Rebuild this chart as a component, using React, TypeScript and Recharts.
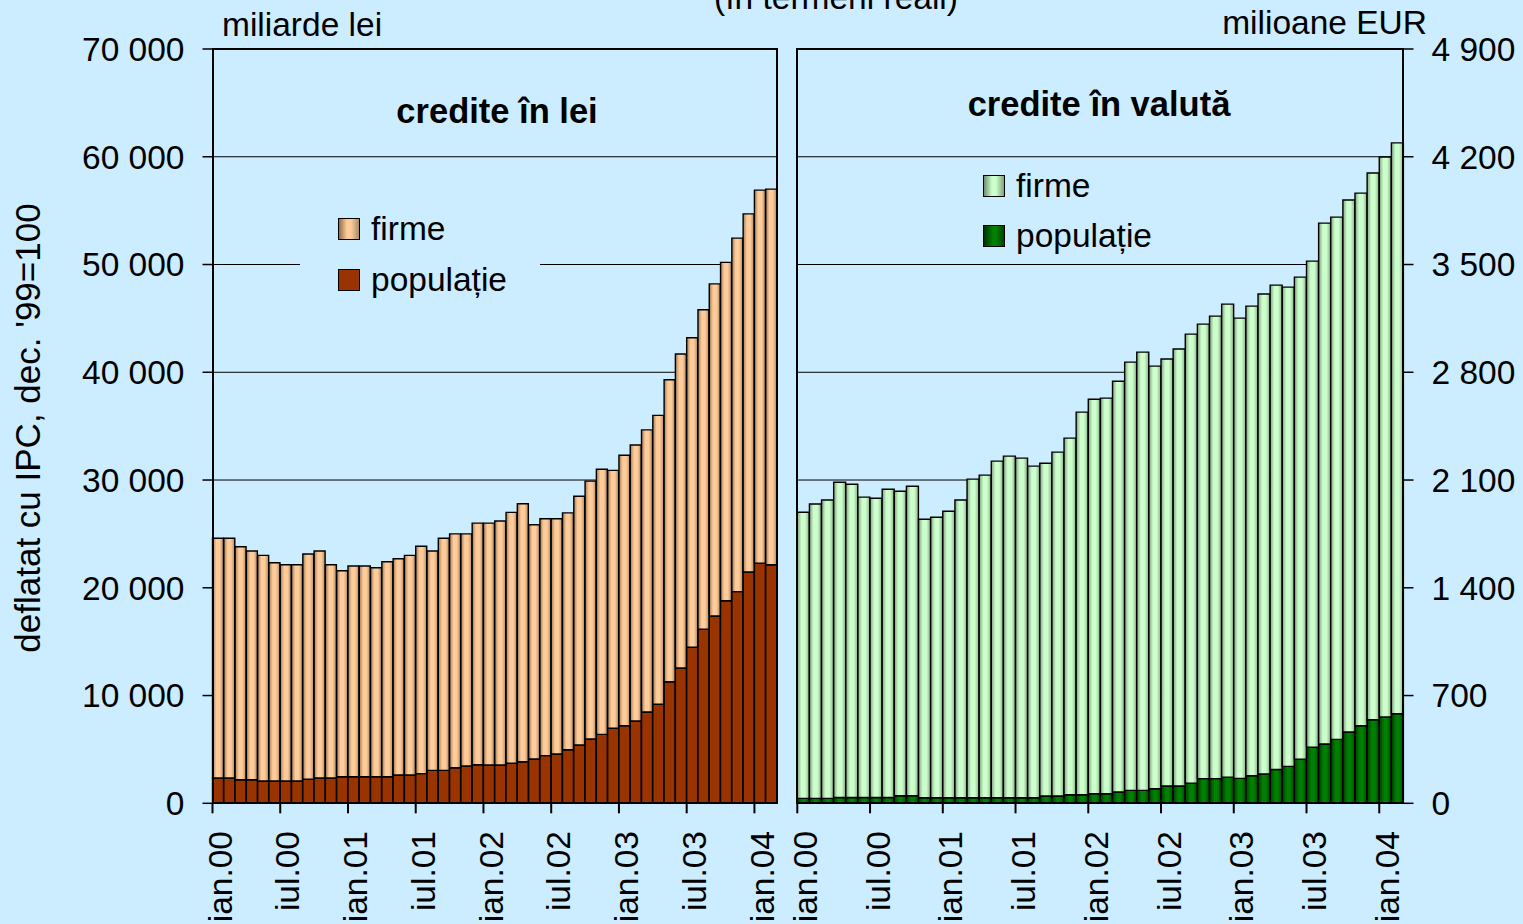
import { BarChart, Bar, XAxis, YAxis, CartesianGrid } from "recharts";

// luni: ian.00 ... feb.04
const months = [
  "ian.00", "feb.00", "mar.00", "apr.00", "mai.00", "iun.00", "iul.00", "aug.00", "sep.00", "oct.00", "noi.00", "dec.00",
  "ian.01", "feb.01", "mar.01", "apr.01", "mai.01", "iun.01", "iul.01", "aug.01", "sep.01", "oct.01", "noi.01", "dec.01",
  "ian.02", "feb.02", "mar.02", "apr.02", "mai.02", "iun.02", "iul.02", "aug.02", "sep.02", "oct.02", "noi.02", "dec.02",
  "ian.03", "feb.03", "mar.03", "apr.03", "mai.03", "iun.03", "iul.03", "aug.03", "sep.03", "oct.03", "noi.03", "dec.03",
  "ian.04", "feb.04",
];

// credite in lei (miliarde lei): total si populatie
const leiTotal = [
  24600, 24600, 23810, 23410, 23010, 22330, 22140, 22140, 23130, 23410, 22140, 21580,
  22020, 22020, 21860, 22420, 22700, 23010, 23850, 23410, 24600, 25000, 25000, 26000,
  26000, 26200, 27000, 27800, 25850, 26400, 26400, 26950, 28500, 29900, 31000, 30900,
  32300, 33250, 34650, 36000, 39300, 41700, 43200, 45800, 48200, 50200, 52450, 54700,
  56900, 57000,
];
const leiPopulatie = [
  2350, 2350, 2190, 2190, 2070, 2070, 2070, 2070, 2230, 2350, 2350, 2470,
  2470, 2470, 2470, 2470, 2630, 2630, 2750, 3060, 3060, 3300, 3460, 3580,
  3550, 3550, 3710, 3860, 4110, 4420, 4580, 4970, 5410, 5970, 6400, 6960,
  7200, 7640, 8470, 9190, 11280, 12560, 14480, 16150, 17380, 18800, 19640, 21470,
  22270, 22140,
];

// credite in valuta (milioane EUR): total si populatie
const valutaTotal = [
  1891, 1944, 1970, 2086, 2073, 1989, 1982, 2040, 2027, 2060, 1845, 1858,
  1897, 1970, 2106, 2132, 2223, 2255, 2242, 2190, 2209, 2281, 2372, 2541,
  2625, 2632, 2742, 2866, 2931, 2840, 2886, 2951, 3048, 3113, 3165, 3243,
  3152, 3230, 3308, 3366, 3353, 3418, 3522, 3769, 3808, 3919, 3964, 4094,
  4198, 4290,
];
const valutaPopulatie = [
  32, 32, 32, 38, 38, 38, 38, 38, 49, 49, 36, 36,
  36, 36, 36, 36, 36, 36, 36, 36, 47, 47, 56, 56,
  62, 62, 73, 84, 84, 95, 112, 112, 131, 160, 160, 170,
  162, 179, 190, 220, 240, 287, 365, 385, 415, 463, 504, 543,
  561, 582,
];

const leiTicks = [0, 10000, 20000, 30000, 40000, 50000, 60000, 70000];
const valutaTicks = [0, 700, 1400, 2100, 2800, 3500, 4200, 4900];

const leiData = months.map((m, i) => ({
  month: m,
  populatie: leiPopulatie[i],
  firme: leiTotal[i] - leiPopulatie[i],
}));
const valutaData = months.map((m, i) => ({
  month: m,
  populatie: valutaPopulatie[i],
  firme: valutaTotal[i] - valutaPopulatie[i],
}));

const FONT = '"Liberation Sans", Arial, sans-serif';
const BG = "#CCECFF";
const PLOT_TOP = 49;
const PLOT_BOTTOM = 803.3;
const CHART_H = 924;

const L_LEFT = 212.5;
const L_RIGHT = 777;
const L_W = 790;
const R_OFFSET = 790;
const R_LEFT = 797.3;
const R_RIGHT = 1403.5;
const R_W = 733;

const fmt = (v: number) => String(v).replace(/\B(?=(\d{3})+(?!\d))/g, " ");

const MonthTick = (props: any) => {
  const { x, payload, band } = props;
  const ty = 831;
  return (
    <g>
      <line x1={x - band / 2} x2={x - band / 2} y1={PLOT_BOTTOM} y2={PLOT_BOTTOM + 10} stroke="#000" strokeWidth={2} />
      <text
        x={x}
        y={ty}
        dy={2}
        transform={`rotate(-90 ${x} ${ty})`}
        textAnchor="end"
        dominantBaseline="central"
        fontSize={33.5}
        fontFamily={FONT}
        fill="#000"
      >
        {payload.value}
      </text>
    </g>
  );
};

const txt = (style: React.CSSProperties) => ({
  position: "absolute" as const,
  fontFamily: FONT,
  color: "#000",
  whiteSpace: "nowrap" as const,
  lineHeight: 1,
  ...style,
});

const Swatch = ({ bg }: { bg: string }) => (
  <span
    style={{
      display: "inline-block",
      width: 20,
      height: 20,
      border: "1px solid #000",
      background: bg,
      marginRight: 11,
      verticalAlign: "baseline",
    }}
  />
);

const leiFirmeCss = "linear-gradient(to right, #8C6E50, #FFCC99 40%, #FFCC99 60%, #A88A6A)";
const valutaFirmeCss = "linear-gradient(to right, #6E8E6E, #CCFFCC 40%, #CCFFCC 60%, #7FA07F)";
const valutaPopCss = "linear-gradient(to right, #003300, #008000 45%, #008000 60%, #004400)";

export default function App() {
  const lBand = (L_RIGHT - L_LEFT) / months.length;
  const rBand = (R_RIGHT - R_LEFT) / months.length;
  return (
    <div
      style={{
        position: "absolute",
        left: 0,
        top: 0,
        width: 1523,
        height: 924,
        background: BG,
        overflow: "hidden",
        fontFamily: FONT,
      }}
    >
      {/* credite in lei */}
      <div style={{ position: "absolute", left: 0, top: 0 }}>
        <BarChart
          width={L_W}
          height={CHART_H}
          data={leiData}
          margin={{ top: PLOT_TOP, right: L_W - L_RIGHT, bottom: CHART_H - PLOT_BOTTOM - 100, left: 0 }}
          barCategoryGap={0}
        >
          <defs>
            <linearGradient id="leiFirme" x1="0" y1="0" x2="1" y2="0">
              <stop offset="0%" stopColor="#A07A58" />
              <stop offset="35%" stopColor="#FFCC99" />
              <stop offset="65%" stopColor="#FFCC99" />
              <stop offset="100%" stopColor="#B08A66" />
            </linearGradient>
          </defs>
          <CartesianGrid vertical={false} stroke="#000" strokeWidth={1} />
          <XAxis
            dataKey="month"
            height={100}
            interval={5}
            axisLine={false}
            tickLine={false}
            tick={(p: any) => <MonthTick {...p} band={lBand} />}
          />
          <YAxis
            width={L_LEFT}
            domain={[0, 70000]}
            ticks={leiTicks}
            interval={0}
            axisLine={false}
            tickSize={10}
            tickMargin={18}
            tickLine={{ stroke: "#000", strokeWidth: 1.5 }}
            tickFormatter={fmt}
            tick={{ fontSize: 33.5, fill: "#000", fontFamily: FONT }}
          />
          <Bar dataKey="populatie" stackId="a" fill="#993300" stroke="#000" strokeWidth={1.4} isAnimationActive={false} />
          <Bar dataKey="firme" stackId="a" fill="url(#leiFirme)" stroke="#000" strokeWidth={1.4} isAnimationActive={false} />
        </BarChart>
      </div>

      {/* credite in valuta */}
      <div style={{ position: "absolute", left: R_OFFSET, top: 0 }}>
        <BarChart
          width={R_W}
          height={CHART_H}
          data={valutaData}
          margin={{ top: PLOT_TOP, right: 0, bottom: CHART_H - PLOT_BOTTOM - 100, left: R_LEFT - R_OFFSET }}
          barCategoryGap={0}
        >
          <defs>
            <linearGradient id="valFirme" x1="0" y1="0" x2="1" y2="0">
              <stop offset="0%" stopColor="#80A080" />
              <stop offset="35%" stopColor="#CCFFCC" />
              <stop offset="65%" stopColor="#CCFFCC" />
              <stop offset="100%" stopColor="#88B088" />
            </linearGradient>
            <linearGradient id="valPop" x1="0" y1="0" x2="1" y2="0">
              <stop offset="0%" stopColor="#003A00" />
              <stop offset="40%" stopColor="#008000" />
              <stop offset="65%" stopColor="#008000" />
              <stop offset="100%" stopColor="#004400" />
            </linearGradient>
          </defs>
          <CartesianGrid vertical={false} stroke="#000" strokeWidth={1} />
          <XAxis
            dataKey="month"
            height={100}
            interval={5}
            axisLine={false}
            tickLine={false}
            tick={(p: any) => <MonthTick {...p} band={rBand} />}
          />
          <YAxis
            orientation="right"
            width={R_W - (R_RIGHT - R_OFFSET)}
            domain={[0, 4900]}
            ticks={valutaTicks}
            interval={0}
            axisLine={false}
            tickSize={10}
            tickMargin={18}
            tickLine={{ stroke: "#000", strokeWidth: 1.5 }}
            tickFormatter={fmt}
            tick={{ fontSize: 33.5, fill: "#000", fontFamily: FONT, textAnchor: "start" }}
          />
          <Bar dataKey="populatie" stackId="a" fill="url(#valPop)" stroke="#000" strokeWidth={1.4} isAnimationActive={false} />
          <Bar dataKey="firme" stackId="a" fill="url(#valFirme)" stroke="#000" strokeWidth={1.4} isAnimationActive={false} />
        </BarChart>
      </div>

      {/* ramele zonelor de desen */}
      <div
        style={{
          position: "absolute",
          left: L_LEFT - 1,
          top: PLOT_TOP - 1,
          width: L_RIGHT - L_LEFT + 2,
          height: PLOT_BOTTOM - PLOT_TOP + 2,
          border: "2px solid #000",
          boxSizing: "border-box",
          pointerEvents: "none",
        }}
      />
      <div
        style={{
          position: "absolute",
          left: R_LEFT - 1,
          top: PLOT_TOP - 1,
          width: R_RIGHT - R_LEFT + 2,
          height: PLOT_BOTTOM - PLOT_TOP + 2,
          border: "2px solid #000",
          boxSizing: "border-box",
          pointerEvents: "none",
        }}
      />

      {/* legenda lei */}
      <div style={{ position: "absolute", left: 300, top: 200, width: 240, height: 110, background: BG }} />
      <div style={txt({ left: 338, top: 212, fontSize: 33.5 })}>
        <Swatch bg={leiFirmeCss} />firme
      </div>
      <div style={txt({ left: 338, top: 263, fontSize: 33.5 })}>
        <Swatch bg="#993300" />populație
      </div>

      {/* legenda valuta */}
      <div style={txt({ left: 983, top: 169, fontSize: 33.5 })}>
        <Swatch bg={valutaFirmeCss} />firme
      </div>
      <div style={txt({ left: 983, top: 219, fontSize: 33.5 })}>
        <Swatch bg={valutaPopCss} />populație
      </div>

      {/* titluri */}
      <div style={txt({ left: 836, top: -19, fontSize: 33.5, transform: "translateX(-50%)" })}>(în termeni reali)</div>
      <div style={txt({ left: 222, top: 8, fontSize: 33.5 })}>miliarde lei</div>
      <div style={txt({ left: 1427, top: 6, fontSize: 33.5, transform: "translateX(-100%)" })}>milioane EUR</div>
      <div style={txt({ left: 497, top: 94, fontSize: 34.5, fontWeight: "bold", transform: "translateX(-50%)" })}>
        credite în lei
      </div>
      <div style={txt({ left: 1099, top: 87, fontSize: 34.5, fontWeight: "bold", transform: "translateX(-50%)" })}>
        credite în valută
      </div>
      <div
        style={txt({
          left: 27,
          top: 428,
          fontSize: 35,
          transform: "translate(-50%, -50%) rotate(-90deg)",
        })}
      >
        deflatat cu IPC, dec. '99=100
      </div>
    </div>
  );
}
